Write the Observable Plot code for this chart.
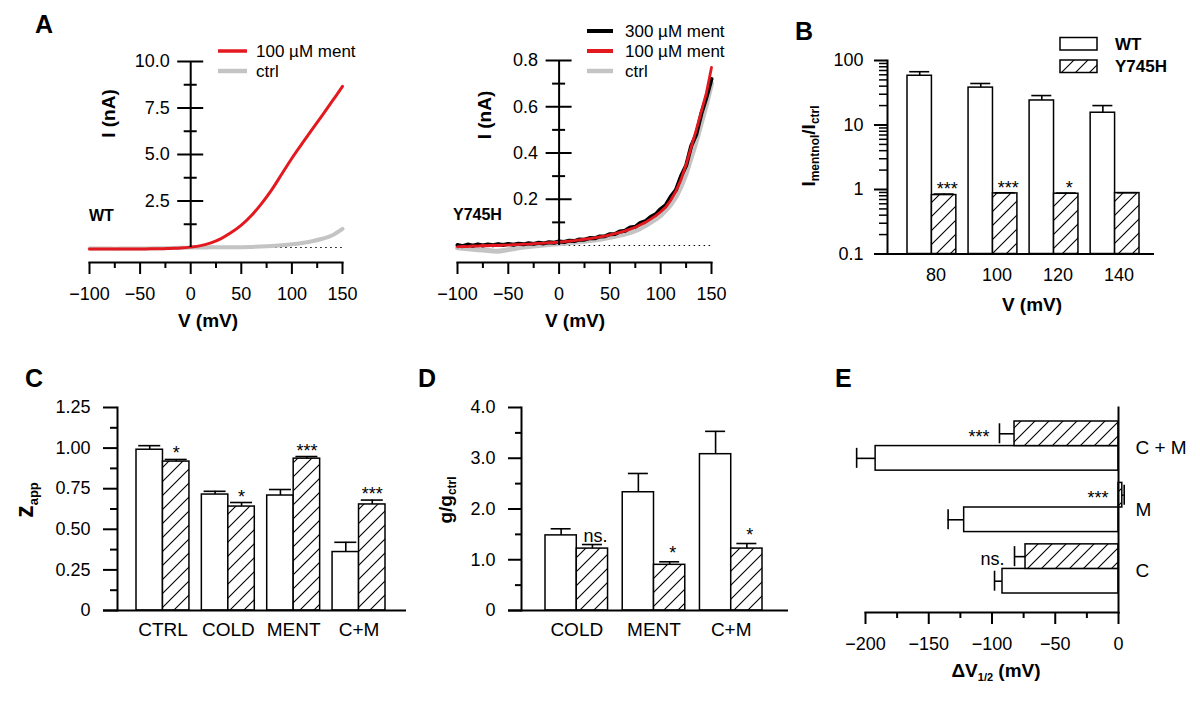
<!DOCTYPE html>
<html><head><meta charset="utf-8">
<script src="https://cdn.jsdelivr.net/npm/d3@7"></script>
<script src="https://cdn.jsdelivr.net/npm/@observablehq/plot@0.6"></script>
<style>
html,body{margin:0;padding:0;background:#fff;}
#fig{position:relative;width:1200px;height:703px;overflow:hidden;background:#fff;}
#fig > svg{position:absolute;left:0;top:0;}
</style></head><body>
<div id="fig"></div>
<script>
// ---------- DATA ----------
// Panel A (WT): I-V traces
const aV = [-100,-90,-80,-70,-60,-50,-40,-30,-20,-10,0,10,20,30,40,50,60,70,80,90,100,110,120,130,140,150];
const aWTment = [-0.08,-0.08,-0.08,-0.08,-0.08,-0.08,-0.07,-0.07,-0.05,-0.03,0.02,0.1,0.25,0.48,0.8,1.2,1.72,2.36,3.1,3.95,4.8,5.58,6.35,7.11,7.88,8.66];
const aWTctrl = [-0.06,-0.06,-0.06,-0.06,-0.05,-0.05,-0.05,-0.04,-0.03,-0.02,0.0,0.0,0.01,0.01,0.02,0.02,0.03,0.05,0.08,0.12,0.17,0.24,0.34,0.47,0.66,1.0];
// Panel A (Y745H)
const yV = [-100,-95,-90,-85,-80,-75,-70,-65,-60,-55,-50,-45,-40,-35,-30,-25,-20,-15,-10,-5,0,5,10,15,20,25,30,35,40,45,50,55,60,65,70,75,80,85,90,95,100,105,110,115,120,125,130,135,140,145,150];
const yCtrl = [-0.01,-0.012,-0.014,-0.016,-0.018,-0.02,-0.022,-0.024,-0.025,-0.022,-0.018,-0.014,-0.01,-0.007,-0.004,-0.002,0.0,0.002,0.004,0.006,0.008,0.01,0.012,0.014,0.016,0.018,0.021,0.024,0.027,0.031,0.035,0.04,0.045,0.05,0.056,0.064,0.074,0.086,0.1,0.114,0.13,0.152,0.178,0.21,0.255,0.31,0.38,0.45,0.53,0.61,0.7];
const yMent100 = [-0.006,-0.004,-0.005,-0.002,-0.003,0.0,-0.001,0.001,0.0,0.002,0.002,0.004,0.004,0.006,0.006,0.008,0.009,0.01,0.012,0.013,0.015,0.017,0.019,0.021,0.024,0.027,0.03,0.033,0.037,0.041,0.046,0.051,0.057,0.063,0.071,0.079,0.09,0.1,0.114,0.128,0.146,0.166,0.197,0.235,0.285,0.35,0.425,0.5,0.58,0.66,0.77];
const yMent300 = [0.002,-0.003,0.004,-0.001,0.005,0.0,0.004,0.001,0.006,0.002,0.007,0.003,0.008,0.005,0.01,0.007,0.012,0.009,0.014,0.012,0.017,0.015,0.021,0.019,0.026,0.025,0.032,0.031,0.039,0.04,0.049,0.05,0.061,0.064,0.078,0.081,0.098,0.105,0.123,0.135,0.158,0.175,0.212,0.24,0.3,0.345,0.43,0.48,0.57,0.64,0.72];
const aXTicks = [-100,-50,0,50,100,150];
const aXMinor = [-75,-25,25,75,125];
const aWTYTicks = [2.5,5,7.5,10];
const aWTYMinor = [1.25,3.75,6.25,8.75];
const aYHTicks = [0.2,0.4,0.6,0.8];
const aYHMinor = [0.1,0.3,0.5,0.7];

// Panel B
const bVolt = ["80","100","120","140"];
const bWT = [58, 38, 24, 15.5];
const bWTErr = [9, 6, 4.6, 4.5];
const bMut = [0.82, 0.87, 0.86, 0.88];
const bMutErr = [0.03, 0.02, 0.02, 0.01];
const bSig = ["***","***","*",""];
const bYTicks = [0.1, 1, 10, 100];
const bYMinor = [0.2,0.3,0.4,0.5,0.6,0.7,0.8,0.9,2,3,4,5,6,7,8,9,20,30,40,50,60,70,80,90];

// Panel C
const cCats = ["CTRL","COLD","MENT","C+M"];
const cWT = [0.99, 0.714, 0.708, 0.36];
const cWTErr = [0.025, 0.02, 0.037, 0.06];
const cMut = [0.917, 0.64, 0.935, 0.653];
const cMutErr = [0.013, 0.025, 0.013, 0.027];
const cSig = ["*","*","***","***"];
const cYTicks = [0, 0.25, 0.5, 0.75, 1.0, 1.25];
const cYMinor = [0.125, 0.375, 0.625, 0.875, 1.125];

// Panel D
const dCats = ["COLD","MENT","C+M"];
const dWT = [1.48, 2.33, 3.08];
const dWTErr = [0.13, 0.37, 0.45];
const dMut = [1.22, 0.90, 1.22];
const dMutErr = [0.08, 0.06, 0.1];
const dSig = ["ns.","*","*"];
const dYTicks = [0, 1, 2, 3, 4];
const dYMinor = [0.5, 1.5, 2.5, 3.5];

// Panel E
const eCats = ["C + M","M","C"];
const eWT = [-192, -122, -91.7];
const eWTErr = [-15, -12.7, -6.3];
const eMut = [-82.2, 3, -73.5];
const eMutErr = [-11.9, 1.5, -8.7];
const eSig = ["***","***","ns."];
const eXTicks = [-200,-150,-100,-50,0];
const eXMinor = [-175,-125,-75,-25];

// ---------- SETUP ----------
const FONT = "Liberation Sans, Arial, Helvetica, sans-serif";
const W = 1200, H = 703;
const RED = "#e3191f", GRAY = "#c4c4c4", INK = "#000";
const fig = document.getElementById("fig");
const minus = d => d < 0 ? "\u2212" + Math.abs(d) : String(d);

function mount(opts) {
  const svg = Plot.plot({
    width: W, height: H,
    style: {background: "transparent", fontFamily: FONT, fontSize: "18px", color: INK, overflow: "visible"},
    ...opts
  });
  svg.style.position = "absolute"; svg.style.left = "0px"; svg.style.top = "0px";
  fig.appendChild(svg);
}
function bandwidth(domain, range, p) {
  return d3.scaleBand().domain(domain).range(range).paddingInner(p).paddingOuter(0).bandwidth();
}
function rows(cats, wt, wtE, mu, muE, sig) {
  return cats.map((cat, i) => ({cat, wt: wt[i], wtErr: wtE[i], mu: mu[i], muErr: muE[i], sig: sig[i]}));
}
function vErr(data, key, ekey, half, bw, cap) {
  const c = half < 0 ? bw / 4 : 3 * bw / 4;
  return [
    Plot.ruleX(data, {x: "cat", y1: d => d[key], y2: d => d[key] + d[ekey], dx: half * bw / 4, stroke: INK, strokeWidth: 1.6}),
    Plot.tickY(data, {x: "cat", y: d => d[key] + d[ekey], insetLeft: c - cap / 2, insetRight: bw - c - cap / 2, stroke: INK, strokeWidth: 1.6})
  ];
}
function hErr(data, key, ekey, half, bw, cap) {
  const c = half < 0 ? bw / 4 : 3 * bw / 4;
  return [
    Plot.ruleY(data, {y: "cat", x1: d => d[key], x2: d => d[key] + d[ekey], dy: half * bw / 4, stroke: INK, strokeWidth: 1.6}),
    Plot.tickX(data, {y: "cat", x: d => d[key] + d[ekey], insetTop: c - cap / 2, insetBottom: bw - c - cap / 2, stroke: INK, strokeWidth: 1.6})
  ];
}
function ivPanel(left, right, y0, yTop, yMax, ticks, minor, series) {
  mount({
    marginLeft: left, marginRight: W - right, marginTop: yTop, marginBottom: H - 262,
    x: {domain: [-100, 150], axis: null},
    y: {domain: [0, yMax], range: [y0, yTop], axis: null},
    marks: [
      Plot.frame({anchor: "bottom", strokeWidth: 2}),
      Plot.axisX(aXTicks, {anchor: "bottom", tickSize: 12, tickPadding: 13, strokeWidth: 2, tickFormat: minus, fontSize: 18, label: null}),
      Plot.axisX(aXMinor, {anchor: "bottom", tickSize: 6, strokeWidth: 2, tickFormat: () => "", label: null}),
      Plot.ruleY([0], {x1: 0, x2: 150, strokeDasharray: "1.5 3.5", strokeWidth: 1.2}),
      ...series,
      Plot.ruleX([0], {y1: 0, y2: yMax, strokeWidth: 2}),
      Plot.ruleY(ticks, {x1: 0, x2: 0, insetLeft: -13, insetRight: -13, strokeWidth: 2}),
      Plot.ruleY(minor, {x1: 0, x2: 0, insetLeft: -6.5, insetRight: -6.5, strokeWidth: 2}),
      Plot.text(ticks, {x: 0, y: d => d, text: d => d.toFixed(1), dx: -21, textAnchor: "end", fontSize: 18})
    ]
  });
}

// ---------- PANEL A (WT) ----------
const wtMent = aV.map((v, i) => ({v, i: aWTment[i]}));
const wtCtrl = aV.map((v, i) => ({v, i: aWTctrl[i]}));
ivPanel(89, 342, 247, 61, 10, aWTYTicks, aWTYMinor, [
  Plot.line(wtCtrl, {x: "v", y: "i", stroke: GRAY, strokeWidth: 4, curve: "catmull-rom"}),
  Plot.line(wtMent, {x: "v", y: "i", stroke: RED, strokeWidth: 3, curve: "catmull-rom"})
]);

// ---------- PANEL A (Y745H) ----------
const yc = yV.map((v, i) => ({v, i: yCtrl[i]}));
const y3 = yV.map((v, i) => ({v, i: yMent300[i]}));
const y1 = yV.map((v, i) => ({v, i: yMent100[i]}));
ivPanel(457, 711, 245, 60, 0.8, aYHTicks, aYHMinor, [
  Plot.line(yc, {x: "v", y: "i", stroke: GRAY, strokeWidth: 5}),
  Plot.line(y3, {x: "v", y: "i", stroke: INK, strokeWidth: 4}),
  Plot.line(y1, {x: "v", y: "i", stroke: RED, strokeWidth: 2.8})
]);

// ---------- PANEL B ----------
const rB = rows(bVolt, bWT, bWTErr, bMut, bMutErr, bSig);
const bRange = [907, 1139], bwB = bandwidth(bVolt, bRange, 0.2);
mount({
  marginLeft: 887, marginRight: W - 1154, marginTop: 60, marginBottom: H - 253.5,
  x: {type: "band", domain: bVolt, range: bRange, paddingInner: 0.2, paddingOuter: 0, round: false, axis: null},
  y: {type: "log", domain: [0.1, 100], axis: null},
  marks: [
    Plot.barY(rB, {x: "cat", y1: 0.1, y2: "wt", fill: "white", stroke: INK, strokeWidth: 1.5, insetRight: bwB / 2}),
    Plot.barY(rB, {x: "cat", y1: 0.1, y2: "mu", fill: "url(#hatch)", stroke: INK, strokeWidth: 1.5, insetLeft: bwB / 2}),
    ...vErr(rB, "wt", "wtErr", -1, bwB, 20),
    ...vErr(rB, "mu", "muErr", 1, bwB, 20),
    Plot.ruleY([0.1], {insetLeft: -11, strokeWidth: 2}),
    Plot.frame({anchor: "left", strokeWidth: 2}),
    Plot.axisY(bYTicks, {anchor: "left", tickSize: 13, tickPadding: 11, strokeWidth: 2, tickFormat: d => String(d), fontSize: 18, label: null}),
    Plot.axisY(bYMinor, {anchor: "left", tickSize: 8, strokeWidth: 1.5, tickFormat: () => "", label: null}),
    Plot.text(bVolt, {x: d => d, frameAnchor: "bottom", dy: 26.5, dx: 4, text: d => d, fontSize: 18}),
    Plot.text(rB, {x: "cat", y: d => d.mu + d.muErr, text: "sig", dx: bwB / 4 + 3, dy: 1, lineAnchor: "bottom", fontSize: 18})
  ]
});

// ---------- PANEL C ----------
const rC = rows(cCats, cWT, cWTErr, cMut, cMutErr, cSig);
const cRange = [136, 385], bwC = bandwidth(cCats, cRange, 0.19);
mount({
  marginLeft: 117, marginRight: W - 406, marginTop: 407, marginBottom: H - 610,
  x: {type: "band", domain: cCats, range: cRange, paddingInner: 0.19, paddingOuter: 0, round: false, axis: null},
  y: {domain: [0, 1.25], axis: null},
  marks: [
    Plot.barY(rC, {x: "cat", y: "wt", fill: "white", stroke: INK, strokeWidth: 1.5, insetRight: bwC / 2}),
    Plot.barY(rC, {x: "cat", y: "mu", fill: "url(#hatch)", stroke: INK, strokeWidth: 1.5, insetLeft: bwC / 2}),
    ...vErr(rC, "wt", "wtErr", -1, bwC, 22),
    ...vErr(rC, "mu", "muErr", 1, bwC, 22),
    Plot.ruleY([0], {insetLeft: -14, strokeWidth: 2}),
    Plot.frame({anchor: "left", strokeWidth: 2}),
    Plot.axisY(cYTicks, {anchor: "left", tickSize: 14, tickPadding: 13, strokeWidth: 2, tickFormat: d => d === 0 ? "0" : d.toFixed(2), fontSize: 18, label: null}),
    Plot.axisY(cYMinor, {anchor: "left", tickSize: 7, strokeWidth: 2, tickFormat: () => "", label: null}),
    Plot.text(cCats, {x: d => d, frameAnchor: "bottom", dy: 25, text: d => d, fontSize: 19}),
    Plot.text(rC, {x: "cat", y: d => d.mu + d.muErr, text: "sig", dx: bwC / 4, dy: 0, lineAnchor: "bottom", fontSize: 18})
  ]
});

// ---------- PANEL D ----------
const rD = rows(dCats, dWT, dWTErr, dMut, dMutErr, dSig);
const dRange = [545, 762], bwD = bandwidth(dCats, dRange, 0.19);
mount({
  marginLeft: 521, marginRight: W - 788, marginTop: 407, marginBottom: H - 610,
  x: {type: "band", domain: dCats, range: dRange, paddingInner: 0.19, paddingOuter: 0, round: false, axis: null},
  y: {domain: [0, 4], axis: null},
  marks: [
    Plot.barY(rD, {x: "cat", y: "wt", fill: "white", stroke: INK, strokeWidth: 1.5, insetRight: bwD / 2}),
    Plot.barY(rD, {x: "cat", y: "mu", fill: "url(#hatch)", stroke: INK, strokeWidth: 1.5, insetLeft: bwD / 2}),
    ...vErr(rD, "wt", "wtErr", -1, bwD, 20),
    ...vErr(rD, "mu", "muErr", 1, bwD, 20),
    Plot.ruleY([0], {insetLeft: -13, strokeWidth: 2}),
    Plot.frame({anchor: "left", strokeWidth: 2}),
    Plot.axisY(dYTicks, {anchor: "left", tickSize: 13, tickPadding: 13, strokeWidth: 2, tickFormat: d => d === 0 ? "0" : d.toFixed(1), fontSize: 18, label: null}),
    Plot.axisY(dYMinor, {anchor: "left", tickSize: 6, strokeWidth: 2, tickFormat: () => "", label: null}),
    Plot.text(dCats, {x: d => d, frameAnchor: "bottom", dy: 25, text: d => d, fontSize: 19}),
    Plot.text(rD, {x: "cat", y: d => d.mu + d.muErr, text: "sig", dx: bwD / 4 + 3, dy: -3, lineAnchor: "bottom", fontSize: 18})
  ]
});

// ---------- PANEL E ----------
const rE = rows(eCats, eWT, eWTErr, eMut, eMutErr, eSig);
const eRange = [421, 593], bwE = bandwidth(eCats, eRange, 0.2);
mount({
  marginLeft: 865, marginRight: W - 1118, marginTop: 407, marginBottom: H - 612,
  x: {domain: [-200, 0], axis: null},
  y: {type: "band", domain: eCats, range: eRange, paddingInner: 0.2, paddingOuter: 0, round: false, axis: null},
  marks: [
    Plot.barX(rE, {y: "cat", x1: 0, x2: "wt", fill: "white", stroke: INK, strokeWidth: 1.5, insetTop: bwE / 2}),
    Plot.barX(rE, {y: "cat", x1: 0, x2: "mu", fill: "url(#hatch)", stroke: INK, strokeWidth: 1.5, insetBottom: bwE / 2}),
    ...hErr(rE, "wt", "wtErr", 1, bwE, 20),
    ...hErr(rE, "mu", "muErr", -1, bwE, 20),
    Plot.frame({anchor: "right", strokeWidth: 2}),
    Plot.frame({anchor: "bottom", strokeWidth: 2}),
    Plot.axisX(eXTicks, {anchor: "bottom", tickSize: 12, tickPadding: 13, strokeWidth: 2, tickFormat: minus, fontSize: 18, label: null}),
    Plot.axisX(eXMinor, {anchor: "bottom", tickSize: 6, strokeWidth: 2, tickFormat: () => "", label: null}),
    Plot.text(eCats, {y: d => d, frameAnchor: "right", dx: 17, dy: 2, text: d => d, textAnchor: "start", fontSize: 19}),
    Plot.text(rE, {y: "cat", x: d => Math.min(0, d.mu + d.muErr), text: "sig", dx: -10, dy: -bwE / 4 + 3, textAnchor: "end", lineAnchor: "middle", fontSize: 18})
  ]
});

// ---------- ANNOTATIONS (titles, legends, panel letters) ----------
const legA1 = [{label: "100 \u00b5M ment", color: RED, w: 3.5}, {label: "ctrl", color: GRAY, w: 4.5}];
const legA2 = [{label: "300 \u00b5M ment", color: INK, w: 4}, {label: "100 \u00b5M ment", color: RED, w: 4}, {label: "ctrl", color: GRAY, w: 4.5}];
function lineLegend(items, x0, x1, tx, yTop) {
  return items.map((d, i) => {
    const y = yTop + i * 20;
    return `<line x1="${x0}" x2="${x1}" y1="${y}" y2="${y}" stroke="${d.color}" stroke-width="${d.w}"/>` +
      `<text x="${tx}" y="${y + 6}" font-size="17">${d.label}</text>`;
  }).join("");
}
const ann = `
<svg xmlns="http://www.w3.org/2000/svg" width="1200" height="703" font-family="${FONT}" fill="#000" style="position:absolute;left:0;top:0">
<defs>
<pattern id="hatch" patternUnits="userSpaceOnUse" width="14" height="14">
<rect width="14" height="14" fill="#fff"/>
<path d="M-3,3 L3,-3 M0,14 L14,0 M11,17 L17,11" stroke="#000" stroke-width="1.1"/>
</pattern>
</defs>
<g font-weight="bold" font-size="25">
<text x="35" y="33">A</text><text x="795" y="40">B</text><text x="25" y="387">C</text><text x="418" y="387">D</text><text x="835" y="387">E</text>
</g>
${lineLegend(legA1, 218, 247, 256, 51)}
${lineLegend(legA2, 587, 613, 625, 31)}
<g font-weight="bold" font-size="19">
<text transform="translate(115,113.5) rotate(-90)" text-anchor="middle">I (nA)</text>
<text transform="translate(491,115) rotate(-90)" text-anchor="middle">I (nA)</text>
<text x="208" y="327" text-anchor="middle">V (mV)</text>
<text x="575" y="327" text-anchor="middle">V (mV)</text>
<text x="1032" y="311" text-anchor="middle">V (mV)</text>
<text x="89" y="221" font-size="16">WT</text>
<text x="453" y="220" font-size="16">Y745H</text>
<text transform="translate(815,146) rotate(-90)" text-anchor="middle">I<tspan font-size="12" dy="4">mentnol</tspan><tspan dy="-4">/I</tspan><tspan font-size="12" dy="4">ctrl</tspan></text>
<text transform="translate(33,500) rotate(-90)" text-anchor="middle"><tspan font-size="25">z</tspan><tspan font-size="13" dy="5">app</tspan></text>
<text transform="translate(452,500) rotate(-90)" text-anchor="middle">g/g<tspan font-size="12" dy="4">ctrl</tspan></text>
<text x="996" y="677" text-anchor="middle">\u0394V<tspan font-size="11" dy="4">1/2</tspan><tspan dy="-4"> (mV)</tspan></text>
</g>
<rect x="1060" y="37.5" width="37" height="12.5" fill="#fff" stroke="#000" stroke-width="1.5"/>
<rect x="1060" y="60" width="37" height="12.5" fill="url(#hatch)" stroke="#000" stroke-width="1.5"/>
<g font-weight="bold" font-size="17">
<text x="1115" y="50">WT</text><text x="1115" y="72">Y745H</text>
</g>
</svg>`;
fig.insertAdjacentHTML("beforeend", ann);
</script>
</body></html>
